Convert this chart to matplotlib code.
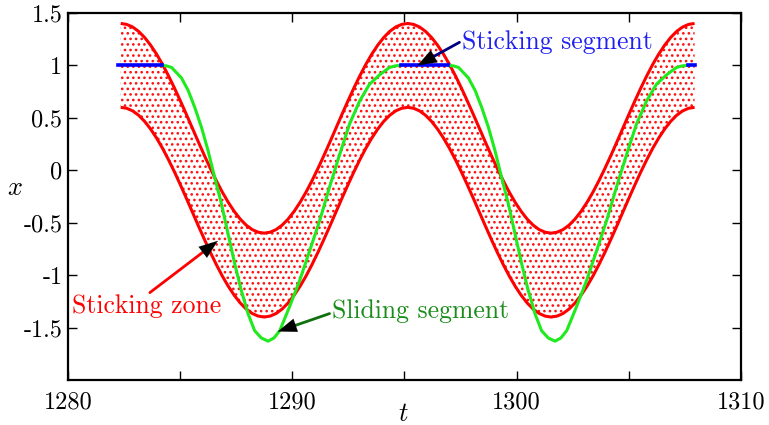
import numpy as np
import matplotlib
matplotlib.use('Agg')
from matplotlib import pyplot as plt
from matplotlib.ticker import FixedLocator, FixedFormatter

plt.rcParams['font.family'] = ['cmr10', 'DejaVu Serif']
plt.rcParams['mathtext.fontset'] = 'cm'
plt.rcParams['axes.unicode_minus'] = False
plt.rcParams['hatch.color'] = '#ff1010'
plt.rcParams['hatch.linewidth'] = 1.1

# centre of the sticking band, read every 1/48 of a period (peak to peak)
band_t = np.linspace(1282.35, 1307.93, 97)
band_mid = [1.0, 0.991, 0.966, 0.924, 0.866, 0.793, 0.707, 0.609, 0.5, 0.383, 0.259, 0.131,
            0.0, -0.131, -0.259, -0.383, -0.5, -0.609, -0.707, -0.793, -0.866, -0.924, -0.966, -0.991,
            -1.0, -0.991, -0.966, -0.924, -0.866, -0.793, -0.707, -0.609, -0.5, -0.383, -0.259, -0.131,
            0.0, 0.131, 0.259, 0.383, 0.5, 0.609, 0.707, 0.793, 0.866, 0.924, 0.966, 0.991,
            1.0, 0.991, 0.966, 0.924, 0.866, 0.793, 0.707, 0.609, 0.5, 0.383, 0.259, 0.131,
            0.0, -0.131, -0.259, -0.383, -0.5, -0.609, -0.707, -0.793, -0.866, -0.924, -0.966, -0.991,
            -1.0, -0.991, -0.966, -0.924, -0.866, -0.793, -0.707, -0.609, -0.5, -0.383, -0.259, -0.131,
            0.0, 0.131, 0.259, 0.383, 0.5, 0.609, 0.707, 0.793, 0.866, 0.924, 0.966, 0.991, 1.0]
band_half = 0.4

# sliding segments (green)
slide1_t = [1284.17, 1284.4, 1284.62, 1285.06, 1285.36, 1285.65, 1285.95, 1286.24, 1286.54,
            1286.84, 1287.14, 1287.43, 1287.73, 1288.03, 1288.32, 1288.62, 1288.92, 1289.18,
            1289.44, 1289.88, 1290.33, 1290.77, 1291.22, 1291.66, 1292.11, 1292.55, 1293.0,
            1293.44, 1293.89, 1294.33, 1294.6, 1294.85]
slide2_t = [1296.96, 1297.19, 1297.41, 1297.85, 1298.15, 1298.44, 1298.74, 1299.03, 1299.33,
            1299.63, 1299.93, 1300.22, 1300.52, 1300.82, 1301.11, 1301.41, 1301.71, 1301.97,
            1302.23, 1302.67, 1303.12, 1303.56, 1304.01, 1304.45, 1304.9, 1305.34, 1305.79,
            1306.23, 1306.68, 1307.12, 1307.39, 1307.64]
slide_x = [1.0, 0.995, 0.98, 0.88, 0.76, 0.60, 0.41, 0.19, -0.07,
           -0.32, -0.61, -0.89, -1.15, -1.37, -1.53, -1.60, -1.63, -1.60,
           -1.53, -1.30, -1.05, -0.77, -0.48, -0.16, 0.15, 0.44, 0.66,
           0.82, 0.91, 0.98, 0.996, 1.0]

# sticking segments (blue)
stick_t = [(1282.25, 1284.17), (1294.85, 1296.96), (1307.64, 1307.97)]
stick_x = 1.0

fig = plt.figure(figsize=(7.69, 4.25), dpi=100)
ax = fig.add_axes([0.0884, 0.106, 0.8752, 0.8635])

band_mid = np.array(band_mid)
upper = band_mid + band_half
lower = band_mid - band_half
ax.fill_between(band_t, lower, upper, facecolor='none', edgecolor='#ff1010',
                hatch='...', linewidth=0)
ax.plot(band_t, upper, color='red', lw=2.2, solid_capstyle='butt')
ax.plot(band_t, lower, color='red', lw=2.2, solid_capstyle='butt')

green = '#1eea1e'
ax.plot(slide1_t, slide_x, color=green, lw=2.2)
ax.plot(slide2_t, slide_x, color=green, lw=2.2)
for t0, t1 in stick_t:
    ax.plot([t0, t1], [stick_x, stick_x], color='blue', lw=2.6)


def pointer(txt_xy, tip_xy, shaft_color):
    ax.annotate('', xy=tip_xy, xytext=txt_xy,
                arrowprops=dict(arrowstyle='-', color=shaft_color, lw=2,
                                shrinkA=0, shrinkB=6))
    # black head, placed a fixed pixel distance back from the tip
    p0 = ax.transData.transform(txt_xy)
    p1 = ax.transData.transform(tip_xy)
    frac = min(0.6, 24.0 / np.hypot(*(p1 - p0)))
    back = ax.transData.inverted().transform(p1 - frac * (p1 - p0))
    ax.annotate('', xy=tip_xy, xytext=tuple(back),
                arrowprops=dict(arrowstyle='-|>,head_length=0.9,head_width=0.33',
                                mutation_scale=15, color='black', lw=0.1,
                                shrinkA=0, shrinkB=0))


fs = 18.5
ax.text(1297.58, 1.22, 'Sticking segment', color='#2020f0', fontsize=fs,
        va='center', ha='left')
pointer((1297.45, 1.22), (1295.58, 1.0), '#000080')

ax.text(1280.18, -1.30, 'Sticking zone', color='red', fontsize=fs,
        va='center', ha='left')
pointer((1283.65, -1.167), (1286.68, -0.673), 'red')

ax.text(1291.79, -1.348, 'Sliding segment', color='#1a8c1a', fontsize=fs,
        va='center', ha='left')
pointer((1291.66, -1.367), (1289.35, -1.538), '#107010')

ax.set_xlim(1280, 1310)
ax.set_ylim(-2.0, 1.5)

ax.xaxis.set_major_locator(FixedLocator([1280, 1290, 1300, 1310]))
ax.xaxis.set_minor_locator(FixedLocator([1285, 1295, 1305]))
yt = [-1.5, -1.0, -0.5, 0.0, 0.5, 1.0, 1.5]
ax.yaxis.set_major_locator(FixedLocator(yt))
ax.yaxis.set_major_formatter(FixedFormatter(['-1.5', '-1', '-0.5', '0', '0.5', '1', '1.5']))

ax.tick_params(which='both', direction='in', top=True, right=True,
               length=6.5, width=1, labelsize=17.5)
ax.tick_params(axis='x', pad=8)
ax.tick_params(axis='y', pad=4)
for s in ax.spines.values():
    s.set_linewidth(1.6)

ax.set_xlabel('$t$', fontsize=19)
ax.xaxis.set_label_coords(0.4985, -0.06)
ax.set_ylabel('$x$', fontsize=19, rotation=0)
ax.yaxis.set_label_coords(-0.079, 0.49)

fig.savefig('out.png', dpi=100)
